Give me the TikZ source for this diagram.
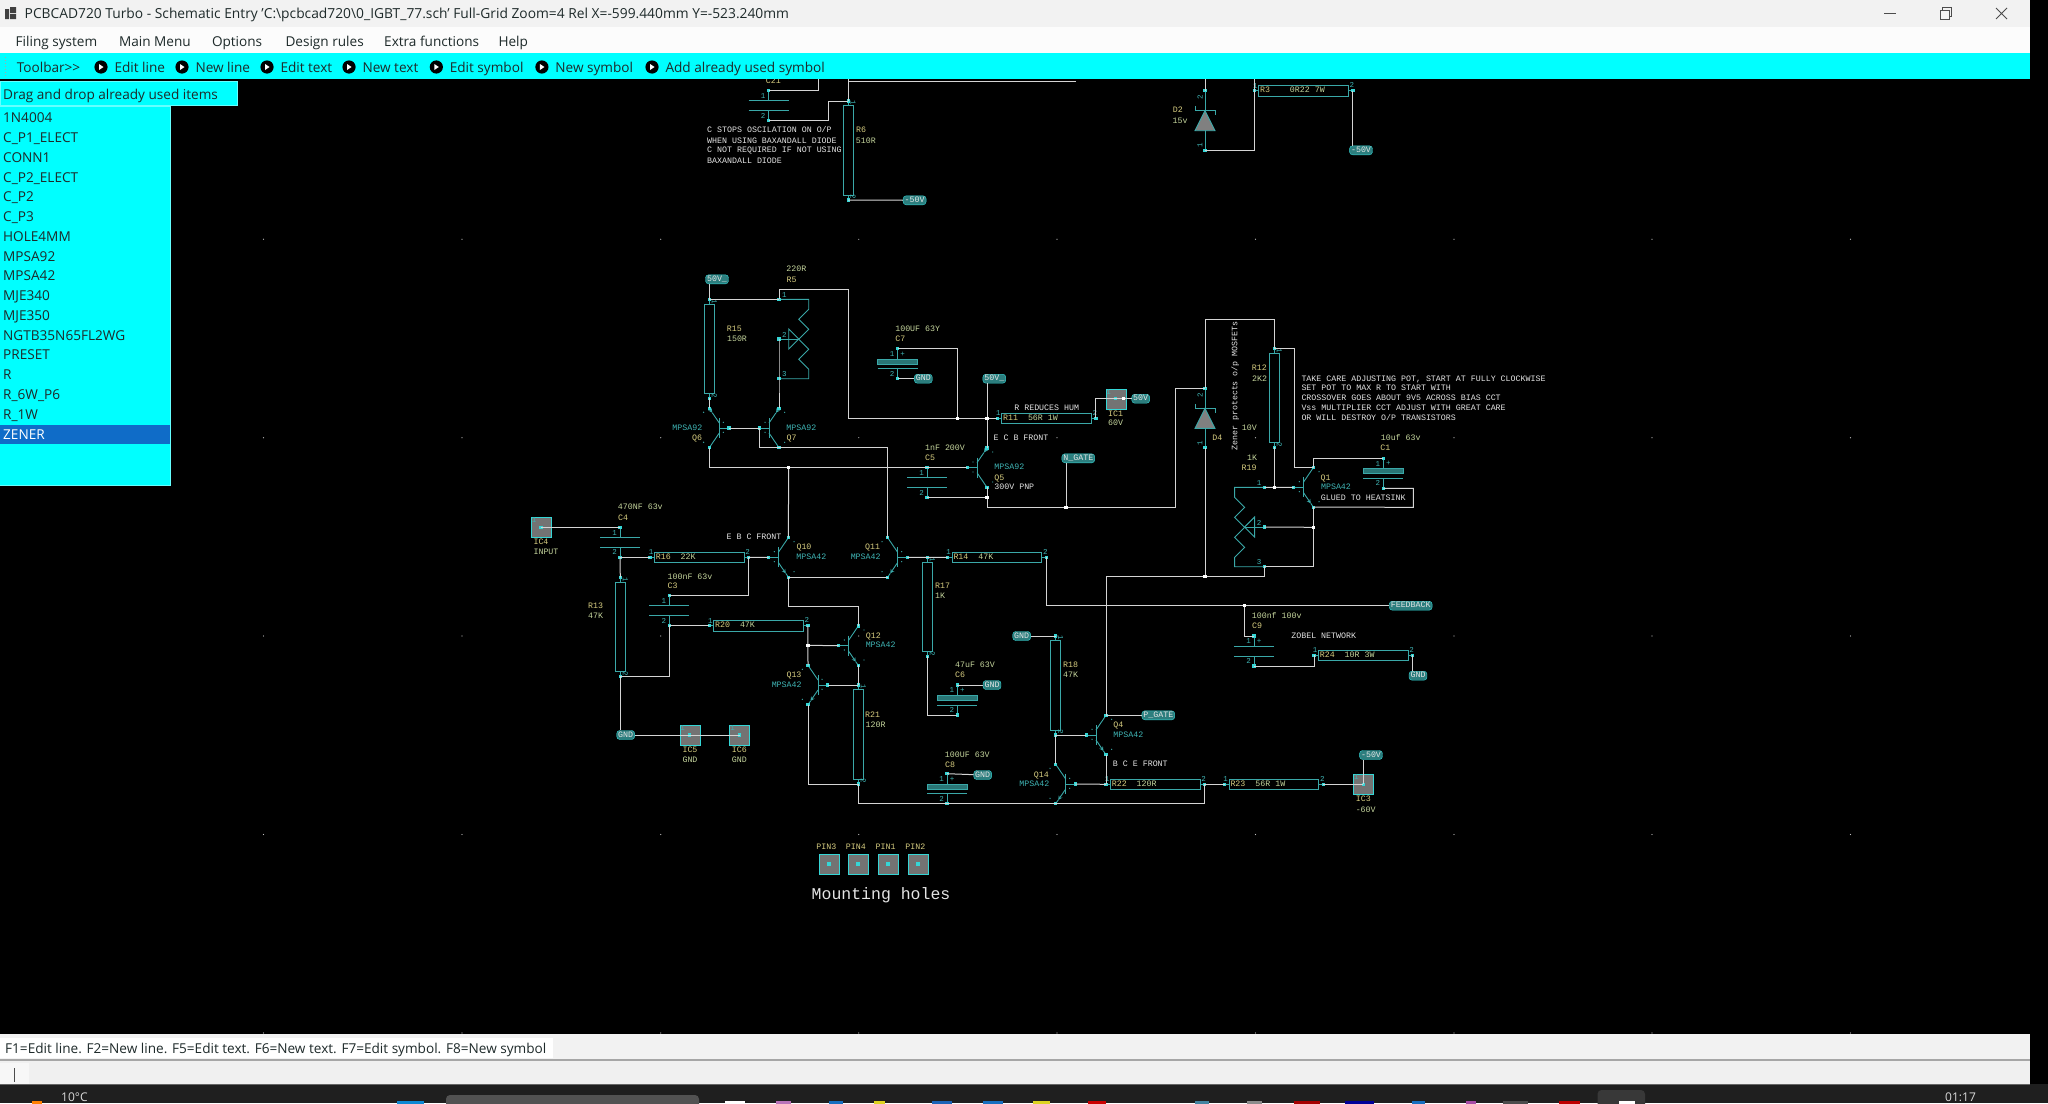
\documentclass[tikz,border=0pt]{standalone}
\usepackage{fontspec}
\setmainfont{Open Sans}
\newfontfamily\schfont{Liberation Mono}
\usetikzlibrary{arrows}

\definecolor{uicyan}{HTML}{00FFFF}
\definecolor{uitext}{HTML}{1E2A2A}
\definecolor{uisel}{HTML}{0F6CC8}
\definecolor{wirecol}{HTML}{D4D4D4}
\definecolor{compcol}{HTML}{3AA8A8}
\definecolor{pincol}{HTML}{35D6D6}
\definecolor{schname}{HTML}{D6CC80}
\definecolor{schval}{HTML}{C4D49C}
\definecolor{schtype}{HTML}{3FB4B4}
\definecolor{schnote}{HTML}{E4E4E4}

\tikzset{
  wire/.style={draw=wirecol,line width=1pt},
  comp/.style={draw=compcol,line width=0.9pt},
  resbody/.style={comp,rectangle,inner sep=0pt},
  schtxt/.style={inner sep=1.5pt,text height=5.5pt,text depth=1pt,font=\fontsize{8.3}{9}\schfont},
  lblname/.style={schtxt,text=schname},
  lblval/.style={schtxt,text=schval},
  lbltype/.style={schtxt,text=schtype},
  lblnote/.style={schtxt,text=schnote,anchor=west,inner xsep=0pt},
  pinno/.style={inner sep=0pt,text=schtype,font=\fontsize{7.5}{8}\schfont},
  nettag/.style={rectangle,rounded corners=3pt,draw=pincol,fill=compcol!75!black,text=schnote,
    inner xsep=1.5pt,inner ysep=0pt,minimum height=9pt,text height=5.5pt,text depth=1pt,font=\fontsize{8.3}{9}\schfont},
  padbox/.style={rectangle,draw=pincol,fill=black!55,minimum size=20pt,inner sep=0pt},
  uilbl/.style={inner sep=0pt,anchor=base west,yshift=-4.8pt,text=uitext,font=\fontsize{13.6}{15}\selectfont},
}

\newcommand{\pindot}[1]{\fill[pincol] (#1) ++(-1.6,-1.6) rectangle ++(3.2,3.2);}
\newcommand{\jdot}[3]{\coordinate (#1) at (#2,#3);
  \fill[white] (#1) ++(-1.6,-1.6) rectangle ++(3.2,3.2);}

% name, x, y, reference, value
\newcommand{\reshz}[5]{
  \coordinate (#1-1) at (#2,#3);
  \coordinate (#1-2) at ({#2+98.6},#3);
  \node[resbody,minimum width=89.5pt,minimum height=10.5pt] (#1) at ({#2+49.3},#3) {};
  \draw[comp] (#1-1) -- (#1.west);
  \draw[comp] (#1-2) -- (#1.east);
  \node[schtxt,anchor=west] (#1t) at (#1.west) {\textcolor{schname}{#4}\ \ \textcolor{schval}{#5}};
  \node[pinno] (#1n1) at ({#2+1},{#3-5}) {1};
  \node[pinno] (#1n2) at ({#2+97.6},{#3-5.5}) {2};
  \pindot{#1-1} \pindot{#1-2}
}
% name, x, y
\newcommand{\resvt}[3]{
  \coordinate (#1-1) at (#2,#3);
  \coordinate (#1-2) at (#2,{#3+99});
  \node[resbody,minimum width=10pt,minimum height=89.5pt] (#1) at (#2,{#3+49.5}) {};
  \draw[comp] (#1-1) -- (#1.north);
  \draw[comp] (#1-2) -- (#1.south);
  \node[pinno,rotate=-90] (#1n1) at ({#2+5},{#3+2}) {1};
  \node[pinno,rotate=-90] (#1n2) at ({#2+5},{#3+96}) {2};
  \pindot{#1-1} \pindot{#1-2}
}
% name, x, y, kind: 0 plain, 1 polar with thick plate, 2 plain with plus
\newcommand{\capx}[4]{
  \coordinate (#1-1) at (#2,#3);
  \coordinate (#1-2) at (#2,{#3+30});
  \ifnum#4=1
    \draw[comp,fill=compcol!70!black] ({#2-20},{#3+10.5}) rectangle ({#2+20},{#3+15.5});
    \draw[comp] ({#2-20},{#3+20}) -- ({#2+20},{#3+20});
    \draw[comp] (#1-1) -- ++(0,10.5);
    \draw[comp] (#1-2) -- ++(0,-10);
  \else
    \draw[comp] ({#2-20},{#3+10}) -- ({#2+20},{#3+10});
    \draw[comp] ({#2-20},{#3+20}) -- ({#2+20},{#3+20});
    \draw[comp] (#1-1) -- ++(0,10);
    \draw[comp] (#1-2) -- ++(0,-10);
  \fi
  \ifnum#4>0
    \node[pinno] (#1pl) at ({#2+5},{#3+5.5}) {+};
  \fi
  \node[pinno] (#1n1) at ({#2-5.5},{#3+5.5}) {1};
  \node[pinno] (#1n2) at ({#2-5.5},{#3+25}) {2};
  \pindot{#1-1} \pindot{#1-2}
}
% name, x, y of top pin, side of the base (1 or -1), pnp 1 or npn 0
\newcommand{\transq}[5]{
  \coordinate (#1-t) at (#2,#3);
  \coordinate (#1-e) at (#2,{#3+39.4});
  \coordinate (#1-m) at ({#2+#4*19.7},{#3+19.7});
  \draw[comp] ({#2+#4*10},{#3+9.7}) -- ({#2+#4*10},{#3+29.7});
  \draw[comp] (#1-m) -- ({#2+#4*10},{#3+19.7});
  \ifnum#5=1
    \draw[comp,->,>=stealth] (#1-t) -- ({#2+#4*3},{#3+4.5});
    \draw[comp] ({#2+#4*3},{#3+4.5}) -- ({#2+#4*10},{#3+14.7});
    \draw[comp] ({#2+#4*10},{#3+24.7}) -- (#1-e);
  \else
    \draw[comp] (#1-t) -- ({#2+#4*10},{#3+14.7});
    \draw[comp,->,>=stealth] ({#2+#4*10},{#3+24.7}) -- ({#2+#4*2.5},{#3+35.7});
    \draw[comp] ({#2+#4*2.5},{#3+35.7}) -- (#1-e);
  \fi
  \fill[compcol] ({#2-#4*5.7},{#3+4}) circle (0.7);
  \fill[compcol] ({#2-#4*5.7},{#3+34}) circle (0.7);
  \fill[compcol] ({#2+#4*14},{#3+14}) circle (0.7);
  \fill[compcol] ({#2+#4*14},{#3+24}) circle (0.7);
  \pindot{#1-t} \pindot{#1-e} \pindot{#1-m}
}
% name, x of the pins, y of pin 1, side of the track (1 or -1)
\newcommand{\presetr}[4]{
  \coordinate (#1-1) at (#2,#3);
  \coordinate (#1-2) at (#2,{#3+39.7});
  \coordinate (#1-3) at (#2,{#3+79.4});
  \draw[comp] (#1-1) -- ({#2+#4*29.7},#3) -- ++(0,10)
    -- ++({-#4*10},10) -- ++({#4*10},10) -- ++({-#4*10},10) -- ++({#4*10},10)
    -- ++({-#4*10},10) -- ++({#4*10},10) -- ({#2+#4*29.7},{#3+79.4}) -- (#1-3);
  \draw[comp] ({#2+#4*9.7},{#3+29.7}) -- ({#2+#4*9.7},{#3+49.7}) -- ({#2+#4*19.7},{#3+39.7}) -- cycle;
  \draw[comp] (#1-2) -- ({#2+#4*19.7},{#3+39.7});
  \node[pinno] (#1n1) at ({#2+#4*5.3},{#3-4.5}) {1};
  \node[pinno] (#1n2) at ({#2+#4*5.3},{#3+35.5}) {2};
  \node[pinno] (#1n3) at ({#2+#4*5.3},{#3+75}) {3};
  \pindot{#1-1} \pindot{#1-2} \pindot{#1-3}
}
% name, x, y of top pin
\newcommand{\zenerd}[3]{
  \coordinate (#1-a) at (#2,#3);
  \coordinate (#1-k) at (#2,{#3+59.5});
  \draw[comp] (#1-a) -- ++(0,20);
  \draw[comp] (#1-k) -- ++(0,-20);
  \draw[comp,fill=black!50] (#2,{#3+20}) -- ({#2-10},{#3+40}) -- ({#2+10},{#3+40}) -- cycle;
  \draw[comp] ({#2-10},{#3+15.5}) -- ({#2-10},{#3+20}) -- ({#2+10},{#3+20}) -- ({#2+10},{#3+24.5});
  \node[pinno,rotate=90] (#1n1) at ({#2-5},{#3+7}) {2};
  \node[pinno,rotate=90] (#1n2) at ({#2-5},{#3+55}) {1};
  \pindot{#1-a} \pindot{#1-k}
}
% name, x, y
\newcommand{\padq}[3]{
  \node[padbox] (#1) at (#2,#3) {};
  \coordinate (#1-p) at (#2,#3);
  \node[pinno] (#1n) at ({#2-7},{#3-7}) {1};
  \pindot{#1-p}
}

\begin{document}
\begin{tikzpicture}[x=1pt,y=-1pt]
  \useasboundingbox (0,0) rectangle (2048,1103);
  \clip (0,0) rectangle (2048,1103);
  \fill[black] (0,0) rectangle (2048,1103);
  % grid points
  \foreach \gx in {263.5,462,660.7,858.8,1057,1255.5,1454,1652,1850.5}
    \foreach \gy in {239.3,437.7,636,834.5,1033}
      \fill[black!25] (\gx,\gy) circle (0.6);

  % ---- components, top part
  \capx{C21}{768.7}{90.7}{0}
  \resvt{R6}{848.1}{101}
  \zenerd{D2}{1205}{90.7}
  \reshz{R3}{1254.3}{90.7}{R3\ \ }{0R22 7W}

  % ---- driver stage
  \resvt{R15}{709.3}{299.3}
  \presetr{R5}{779}{299.3}{1}
  \transq{Q6}{709.3}{408.3}{1}{1}
  \transq{Q7}{779}{408.3}{-1}{1}
  \transq{Q5}{987}{448}{-1}{1}
  \capx{C7}{897.7}{348.7}{1}
  \capx{C5}{927}{467.7}{0}
  \reshz{R11}{997.3}{418.3}{R11}{56R 1W}
  \padq{IC1}{1115.7}{398.7}

  % ---- bias
  \zenerd{D4}{1205}{388.3}
  \resvt{R12}{1274.3}{348.3}
  \presetr{R19}{1264.3}{487.3}{-1}
  \transq{Q1}{1313.3}{467.7}{-1}{0}
  \capx{C1}{1383.3}{458.3}{1}

  % ---- input stage
  \padq{IC4}{541}{527.3}
  \capx{C4}{620}{527.3}{0}
  \reshz{R16}{650}{557.3}{R16}{22K}
  \capx{C3}{669.3}{595.7}{0}
  \resvt{R13}{620.3}{577.3}
  \reshz{R20}{709.3}{625.7}{R20}{47K}
  \padq{IC5}{689.7}{735}
  \padq{IC6}{739.5}{735}
  \transq{Q10}{788.3}{537.7}{-1}{0}
  \transq{Q11}{887.7}{537.7}{1}{0}
  \transq{Q12}{858.3}{626}{-1}{0}
  \transq{Q13}{808}{665.3}{1}{0}
  \resvt{R21}{858.3}{685}
  \reshz{R14}{947.7}{557.3}{R14}{47K}
  \resvt{R17}{927.3}{557.3}
  \capx{C6}{957.3}{685}{1}
  \capx{C8}{947}{773.7}{1}

  % ---- output side
  \resvt{R18}{1055.7}{636}
  \transq{Q4}{1106}{715.3}{-1}{0}
  \transq{Q14}{1055.7}{764.3}{1}{0}
  \reshz{R22}{1106}{784.3}{R22}{120R}
  \reshz{R23}{1224.7}{784.3}{R23}{56R 1W}
  \padq{IC3}{1363.3}{784.3}
  \capx{C9}{1254}{636}{2}
  \reshz{R24}{1314}{655.3}{R24}{10R 3W}

  % mounting holes
  \foreach \pinname/\px in {PIN3/828.7,PIN4/858.3,PIN1/888,PIN2/917.7}{
    \node[padbox] (\pinname) at (\px,864) {};
    \coordinate (\pinname-p) at (\px,864);
    \fill[pincol] (\pinname-p) ++(-2,-2) rectangle ++(4,4);
    \node[lblname] (t\pinname) at (\px-2.4,847.7) {\pinname};
  }

  % ---- net labels
  \node[nettag] (VnegA) at (914.6,200.3) {-50V};
  \node[nettag] (VnegB) at (1361,150.3) {-50V};
  \node[nettag] (VnegC) at (1371,755) {-50V};
  \node[nettag] (VposA) at (717,279.3) {50V\_};
  \node[nettag] (VposB) at (994.3,378.7) {50V\_};
  \node[nettag] (VposC) at (1140.7,398.7) {50V};
  \node[nettag] (GndA) at (923.3,378.7) {GND};
  \node[nettag] (GndB) at (625.7,735) {GND};
  \node[nettag] (GndC) at (992,685) {GND};
  \node[nettag] (GndD) at (982.7,775) {GND};
  \node[nettag] (GndE) at (1021.7,636) {GND};
  \node[nettag] (GndF) at (1418,675.7) {GND};
  \node[nettag] (NGate) at (1078.3,458.3) {N\_GATE};
  \node[nettag] (PGate) at (1158.3,715.3) {P\_GATE};
  \node[nettag] (Feedback) at (1410.7,605.7) {FEEDBACK};

  % ---- corner points of the wires
  \coordinate (topA) at (818.9,78);
  \coordinate (topB) at (848.1,78);
  \coordinate (topC) at (848.1,81.3);
  \coordinate (topD) at (1075.8,81.3);
  \coordinate (topE) at (1205,78);
  \coordinate (topF) at (1254.3,78);
  \coordinate (kinkA) at (828.5,101);
  \coordinate (kinkB) at (848.7,289.3);
  \coordinate (kinkC) at (987,507.3);
  \coordinate (kinkD) at (1175,388.3);
  \coordinate (kinkE) at (788.3,606);
  \coordinate (kinkF) at (1264.3,576.7);
  \coordinate (kinkG) at (1205,319.3);
  \coordinate (kinkH) at (1294,467.7);
  \coordinate (kinkI) at (1413.3,507.3);
  \jdot{jnA}{788.7}{467.7}
  \jdot{jnC}{957.3}{418.3}
  \jdot{jnD}{987}{418.3}
  \jdot{jnE}{987}{497.7}
  \jdot{jnF}{1066}{507.3}
  \jdot{jnG}{808}{645.3}
  \jdot{jnH}{1244.3}{605.7}
  \jdot{jnJ}{1205}{576.7}
  \jdot{jnK}{1274.3}{487.3}
  \jdot{jnL}{1313.3}{527.3}
  \jdot{jnM}{1123.5}{398.7}

  % ---- wires, top part
  \draw[wire] (C21-1) -| (topA);
  \draw[wire] (C21-2) -| (kinkA) -- (R6-1);
  \draw[wire] (topB) -- (R6-1);
  \draw[wire] (topC) -- (topD);
  \draw[wire] (R6-2) -- (VnegA);
  \draw[wire] (topE) -- (D2-a);
  \draw[wire] (D2-k) -| (topF);
  \draw[wire] (R3-2) -- (R3-2 |- VnegB.north);

  % ---- wires, driver stage
  \draw[wire] (R15-1) -- (R15-1 |- VposA.south);
  \draw[wire] (R15-1) -- (R5-1);
  \draw[wire] (R15-2) -- (Q6-t);
  \draw[wire] (R5-2) -- (R5-3) -- (Q7-t);
  \draw[wire] (Q6-m) -- (Q7-m);
  \draw[wire] (Q7-m) |- (Q7-e) -| (Q11-t);
  \draw[wire] (Q6-e) |- (Q5-m);
  \draw[wire] (jnA) -- (Q10-t);
  \draw[wire] (R5-1) |- (kinkB) |- (R11-1);
  \draw[wire] (C7-1) -| (jnC);
  \draw[wire] (C7-2) -- (GndA);
  \draw[wire] (Q5-t) -- (Q5-t |- VposB.south);
  \draw[wire] (R11-2) |- (IC1-p) -- (VposC);
  \draw[wire] (Q5-e) -- (kinkC) -| (kinkD) -- (D4-a);
  \draw[wire] (C5-2) -- (jnE);
  \draw[wire] (jnF) -- (jnF |- NGate.south);

  % ---- wires, input stage
  \draw[wire] (IC4-p) -- (C4-1);
  \draw[wire] (C4-2) -- (R16-1);
  \draw[wire] (C4-2) -- (R13-1);
  \draw[wire] (R16-2) -- (Q10-m);
  \draw[wire] (R16-2) |- (C3-1);
  \draw[wire] (C3-2) -- (R20-1);
  \draw[wire] (C3-2) |- (R13-2);
  \draw[wire] (R13-2) -- (R13-2 |- GndB.north);
  \draw[wire] (GndB) -- (IC5-p) -- (IC6-p);
  \draw[wire] (Q10-e) -- (Q11-e);
  \draw[wire] (Q10-e) -- (kinkE) -| (Q12-t);
  \draw[wire] (Q11-m) -- (R14-1);
  \draw[wire] (R20-2) -- (Q13-t);
  \draw[wire] (jnG) -- (Q12-m);
  \draw[wire] (Q12-e) -- (R21-1);
  \draw[wire] (Q13-m) -- (R21-1);
  \draw[wire] (Q13-e) |- (R21-2);
  \draw[wire] (R21-2) |- (Q14-e) -| (R22-2);
  \draw[wire] (R17-2) |- (C6-2);
  \draw[wire] (C6-1) -- (GndC);
  \draw[wire] (C8-1) -- (GndD);

  % ---- wires, output side
  \draw[wire] (R14-2) |- (Feedback);
  \draw[wire] (jnH) |- (C9-1);
  \draw[wire] (C9-2) -| (R24-1);
  \draw[wire] (R24-2) -- (R24-2 |- GndF.north);
  \draw[wire] (GndE) -- (R18-1);
  \draw[wire] (R18-2) -- (Q4-m);
  \draw[wire] (R18-2) -- (Q14-t);
  \draw[wire] (Q4-t) -- (PGate);
  \draw[wire] (Q4-e) -- (R22-1);
  \draw[wire] (Q14-m) -- (R22-1);
  \draw[wire] (R22-2) -- (R23-1);
  \draw[wire] (R23-2) -- (IC3-p);
  \draw[wire] (IC3-p) -- (IC3-p |- VnegC.south);
  \draw[wire] (Q4-t) |- (kinkF) -- (R19-3);
  \draw[wire] (D4-k) -- (jnJ);
  \draw[wire] (D4-a) -- (kinkG) -| (R12-1);
  \draw[wire] (R12-1) -| (kinkH) -- (Q1-t);
  \draw[wire] (R12-2) -- (jnK);
  \draw[wire] (R19-1) -- (Q1-m);
  \draw[wire] (R19-2) -- (jnL);
  \draw[wire] (Q1-e) |- (R19-3);
  \draw[wire] (Q1-t) |- (C1-1);
  \draw[wire] (C1-2) -| (kinkI) -- (Q1-e);

  % junction dots again, over the wires
  \foreach \jn in {jnA,jnC,jnD,jnE,jnF,jnG,jnH,jnJ,jnK,jnL,jnM}
    \fill[white] (\jn) ++(-1.6,-1.6) rectangle ++(3.2,3.2);

  % ---- labels and notes
  \node[lblname] (tC21) at (773.4,81.7) {C21};
  \node[lblname] (tR6) at (861,130.7) {R6};
  \node[lblval] (vR6) at (865.8,141) {510R};
  \node[lblnote] (noteA) at (707,130.7) {C STOPS OSCILATION ON O/P};
  \node[lblnote] (noteB) at (707,141) {WHEN USING BAXANDALL DIODE};
  \node[lblnote] (noteC) at (707,150.7) {C NOT REQUIRED IF NOT USING};
  \node[lblnote] (noteD) at (707,161) {BAXANDALL DIODE};
  \node[lblname] (tD2) at (1177.8,110.7) {D2};
  \node[lblval] (vD2) at (1180,121.7) {15v};

  \node[lblval] (vR5) at (796.3,269.3) {220R};
  \node[lblname] (tR5) at (791.7,280) {R5};
  \node[lblname] (tR15) at (734.3,329) {R15};
  \node[lblval] (vR15) at (737,339) {150R};
  \node[lbltype] (vQ6) at (687.3,428) {MPSA92};
  \node[lblname] (tQ6) at (697,438.3) {Q6};
  \node[lbltype] (vQ7) at (801.3,428) {MPSA92};
  \node[lblname] (tQ7) at (791.7,438.3) {Q7};
  \node[lblval] (vC7) at (917.7,329) {100UF 63Y};
  \node[lblname] (tC7) at (900.3,339) {C7};
  \node[lblnote,anchor=center] (noteHum) at (1046.7,408.3) {R REDUCES HUM};
  \node[lblname] (tIC1) at (1115.7,414) {IC1};
  \node[lblval] (vIC1) at (1115.7,423.3) {60V};
  \node[lblnote,anchor=center] (noteQ5) at (1021,438.3) {E C B FRONT};
  \node[lblval] (vC5) at (945,448) {1nF 200V};
  \node[lblname] (tC5) at (930,458.3) {C5};
  \node[lbltype] (vQ5) at (1009.3,467.7) {MPSA92};
  \node[lblname] (tQ5) at (999.3,478.3) {Q5};
  \node[lblnote,anchor=center] (noteV) at (1014.3,487.7) {300V PNP};

  \node[schtxt,rotate=90,text=schnote] (noteZen) at (1235,386) {Zener protects o/p MOSFETs};
  \node[lblname] (tD4) at (1217.3,438.3) {D4};
  \node[lblval] (vD4) at (1249.3,428.3) {10V};
  \node[lblname] (tR12) at (1259.3,368.7) {R12};
  \node[lblval] (vR12) at (1259.7,379) {2K2};
  \node[lblval] (vR19) at (1252,458.3) {1K};
  \node[lblname] (tR19) at (1249,468.3) {R19};
  \node[lblnote] (noteE) at (1301.3,379) {TAKE CARE ADJUSTING POT, START AT FULLY CLOCKWISE};
  \node[lblnote] (noteF) at (1301.3,388.7) {SET POT TO MAX R TO START WITH};
  \node[lblnote] (noteG) at (1301.3,398.7) {CROSSOVER GOES ABOUT 9V5 ACROSS BIAS CCT};
  \node[lblnote] (noteH) at (1301.3,408.3) {Vss MULTIPLIER CCT ADJUST WITH GREAT CARE};
  \node[lblnote] (noteI) at (1301.3,418.3) {OR WILL DESTROY O/P TRANSISTORS};
  \node[lblval] (vC1) at (1400.7,438.3) {10uf 63v};
  \node[lblname] (tC1) at (1385.3,448.3) {C1};
  \node[lblname] (tQ1) at (1325.7,478) {Q1};
  \node[lbltype] (vQ1) at (1336,487.7) {MPSA42};
  \node[lblnote,anchor=center] (noteGlue) at (1363.3,498) {GLUED TO HEATSINK};

  \node[lblname] (tIC4) at (541,542.3) {IC4};
  \node[lblval] (vIC4) at (546,552.7) {INPUT};
  \node[lblval] (vC4) at (640.3,507.3) {470NF 63v};
  \node[lblname] (tC4) at (623,518) {C4};
  \node[lblval] (vC3) at (690,577) {100nF 63v};
  \node[lblname] (tC3) at (672.7,586) {C3};
  \node[lblname] (tR13) at (595.7,606) {R13};
  \node[lblval] (vR13) at (595.7,616.3) {47K};
  \node[lblname] (tIC5) at (690,750) {IC5};
  \node[lblval] (vIC5) at (690,760) {GND};
  \node[lblname] (tIC6) at (739.3,750) {IC6};
  \node[lblval] (vIC6) at (739.3,760) {GND};
  \node[lblnote,anchor=center] (noteFront) at (754,537.7) {E B C FRONT};
  \node[lblname] (tQ10) at (804,547.3) {Q10};
  \node[lbltype] (vQ10) at (811.3,557.3) {MPSA42};
  \node[lblname] (tQ11) at (872.7,547.3) {Q11};
  \node[lbltype] (vQ11) at (865.7,557.3) {MPSA42};
  \node[lblname] (tQ12) at (873.3,636) {Q12};
  \node[lbltype] (vQ12) at (880.7,645.7) {MPSA42};
  \node[lblname] (tQ13) at (794,675.7) {Q13};
  \node[lbltype] (vQ13) at (786.7,685) {MPSA42};
  \node[lblname] (tR21) at (872.7,715.3) {R21};
  \node[lblval] (vR21) at (875.7,725) {120R};
  \node[lblname] (tR17) at (942.7,586) {R17};
  \node[lblval] (vR17) at (940,596.3) {1K};
  \node[lblval] (vC6) at (975,665) {47uF 63V};
  \node[lblname] (tC6) at (960,675.7) {C6};
  \node[lblval] (vC8) at (967.3,755) {100UF 63V};
  \node[lblname] (tC8) at (950,765) {C8};

  \node[lblname] (tR18) at (1070.7,665.3) {R18};
  \node[lblval] (vR18) at (1070.7,675.7) {47K};
  \node[lblname] (tQ4) at (1118.3,725) {Q4};
  \node[lbltype] (vQ4) at (1128.3,735.3) {MPSA42};
  \node[lblnote,anchor=center] (noteBce) at (1140.3,764.7) {B C E FRONT};
  \node[lblname] (tQ14) at (1041.3,775) {Q14};
  \node[lbltype] (vQ14) at (1034.3,784.3) {MPSA42};
  \node[lblname] (tIC3) at (1363.3,799.3) {IC3};
  \node[lblval] (vIC3) at (1365.7,810) {-60V};
  \node[lblval] (vC9) at (1276.7,616) {100nf 100v};
  \node[lblname] (tC9) at (1257,626) {C9};
  \node[lblnote,anchor=center] (noteZob) at (1323.7,636) {ZOBEL NETWORK};
  \node[lblnote,text height=11pt,text depth=0pt,font=\fontsize{16.5}{18}\schfont] (noteHoles) at (811.5,894.3) {Mounting holes};

  % ---- window frame
  \fill[black!5] (0,0) rectangle (2030,27);
  \fill[black!1] (0,27) rectangle (2030,53.3);
  \fill[uicyan] (0,53.3) rectangle (2030,79.3);
  \fill[black!75] (5,9) rectangle (9,19) (10,7) rectangle (16,13) (10,14) rectangle (16,19);
  \node[uilbl,font=\fontsize{13.8}{15}\selectfont] (title) at (24.5,14)
    {PCBCAD720 Turbo - Schematic Entry 'C:\textbackslash pcbcad720\textbackslash 0\_IGBT\_77.sch' Full-Grid Zoom=4 Rel X=-599.440mm Y=-523.240mm};
  \draw[black!70,line width=0.9pt] (1884,13.3) -- (1896,13.3);
  \draw[black!70,line width=0.9pt] (1940,10) rectangle (1949,19);
  \draw[black!70,line width=0.9pt] (1942.5,10) -- (1942.5,7.5) -- (1951.5,7.5) -- (1951.5,16.5) -- (1949,16.5);
  \draw[black!70,line width=0.9pt] (1996,8) -- (2007,19) (2007,8) -- (1996,19);

  \foreach \mname/\mx in {Filing system/15.5,Main Menu/118.8,Options/211.8,Design rules/285.3,Extra functions/384,Help/498.3}
    \node[uilbl] (menu\mx) at (\mx,41.3) {\mname};

  \draw[black!35,dotted,line width=1pt] (5,57) -- (5,76);
  \node[uilbl] (tbHead) at (16.6,67.3) {Toolbar>{}>};
  \foreach \tbname/\tbx in {Edit line/101,New line/182,Edit text/267,New text/349,Edit symbol/436.3,New symbol/541.9,Add already used symbol/652}{
    \fill[black] (\tbx,67) circle (6.6);
    \fill[white] (\tbx-2,64) -- (\tbx-2,70) -- (\tbx+2.5,67) -- cycle;
    \node[uilbl] (tb\tbx) at (\tbx+13.3,67.3) {\tbname};
  }

  % ---- symbol list
  \draw[uicyan!60!white,fill=uicyan,line width=1pt] (0,81.5) rectangle (237.5,105);
  \node[uilbl] (dragHead) at (3,94.3) {Drag and drop already used items};
  \draw[uicyan!60!white,fill=uicyan,line width=1pt] (-1,106) rectangle (170,485);
  \fill[uisel] (0,424.7) rectangle (169.5,444);
  \foreach \item [count=\itn] in {1N4004,C\_P1\_ELECT,CONN1,C\_P2\_ELECT,C\_P2,C\_P3,HOLE4MM,MPSA92,MPSA42,MJE340,MJE350,NGTB35N65FL2WG,PRESET,R,R\_6W\_P6,R\_1W}
    \node[uilbl] (item\itn) at (3,{118+(\itn-1)*19.75}) {\item};
  \node[uilbl,text=white] (itemZener) at (3,434.5) {ZENER};

  % ---- status lines
  \fill[black!5] (0,1034) rectangle (2030,1059);
  \fill[white] (0,1038) rectangle (553,1058);
  \node[uilbl] (status) at (5,1048.5) {F1=Edit line. F2=New line. F5=Edit text. F6=New text. F7=Edit symbol. F8=New symbol};
  \fill[black!35] (0,1059) rectangle (2030,1061);
  \fill[black!6] (0,1061) rectangle (2030,1084);
  \fill[white!97!black] (0,1063) rectangle (29,1084);
  \draw[black!70,line width=1pt] (14,1068) -- (14,1082);

  % ---- task bar, only its top edge is in the shot
  \fill[black!88] (0,1084.4) rectangle (2048,1103);
  \draw[black!60,line width=1pt] (0,1084.6) -- (2030,1084.6);
  \fill[black!68,rounded corners=4pt] (446,1095) rectangle (699,1110);
  \fill[black!78,rounded corners=4pt] (1597.5,1090) rectangle (1645,1110);
  \foreach \xa/\xb/\icol in {32/42/orange,397/424/cyan!70!blue,724.5/744.6/white,776/791/violet!55!white,829/843/cyan!50!blue,874/885/yellow!85!black,932/952/cyan!40!blue,983/1003/cyan!50!blue,1033/1050/yellow!85!black,1088/1106/red!80!black,1195/1209/cyan!60!black,1247/1262/black!45,1294/1320/red!65!black,1345/1374/blue!60!black,1412/1425/cyan!50!blue,1466/1476/violet!70!white,1503/1528/black!70,1559/1580/red!75!black,1619/1635/white}
    \fill[\icol] (\xa,1100.5) rectangle (\xb,1108);
  \node[inner sep=0pt,anchor=base west,text=black!15,font=\fontsize{12}{14}\selectfont] (clockA) at (61,1101.5) {10°C};
  \node[inner sep=0pt,anchor=base west,text=black!15,font=\fontsize{12}{14}\selectfont] (clockB) at (1945,1101.5) {01:17};
\end{tikzpicture}
\end{document}
